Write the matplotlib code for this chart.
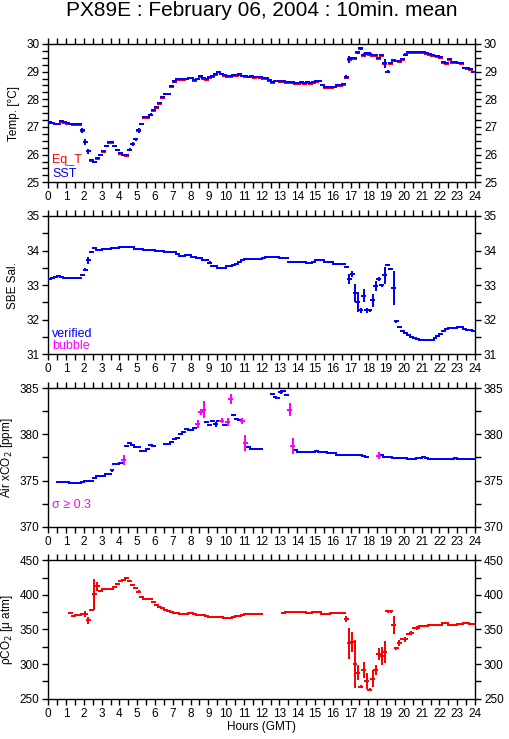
import numpy as np
import matplotlib
matplotlib.use('Agg')
import matplotlib.pyplot as plt
from matplotlib.ticker import MultipleLocator

plt.rcParams['font.family'] = ['Liberation Sans', 'DejaVu Sans']
nan = np.nan

title = "PX89E : February 06, 2004 : 10min. mean"
xlabel = "Hours (GMT)"
hour_ticks = list(range(0, 25))

# 10-minute means, 144 per day (one row = one hour)
sst = [
    27.18, 27.16, 27.12, 27.12, 27.20, 27.18,
    27.15, 27.12, 27.10, 27.10, 27.10, 26.88,
    26.45, 26.12, 25.80, 25.72, 25.88, 25.98,
    26.12, 26.33, 26.45, 26.45, 26.33, 26.18,
    26.05, 26.00, 25.98, 26.18, 26.38, 26.55,
    26.88, 27.12, 27.35, 27.35, 27.45, 27.60,
    27.72, 27.85, 28.07, 28.20, 28.20, 28.47,
    28.65, 28.72, 28.72, 28.72, 28.75, 28.78,
    28.78, 28.70, 28.75, 28.85, 28.78, 28.72,
    28.80, 28.85, 28.90, 29.00, 28.93, 28.88,
    28.85, 28.85, 28.87, 28.88, 28.90, 28.86,
    28.85, 28.82, 28.84, 28.80, 28.82, 28.80,
    28.78, 28.76, 28.70, 28.62, 28.68, 28.68,
    28.66, 28.66, 28.63, 28.62, 28.62, 28.60,
    28.60, 28.62, 28.60, 28.62, 28.60, 28.62,
    28.65, 28.68, 28.52, 28.45, 28.45, 28.45,
    28.46, 28.50, 28.52, 28.56, 28.80, 29.45,
    29.48, 29.50, 29.70, 29.85, 29.62, 29.66,
    29.65, 29.60, 29.60, 29.50, 29.60, 29.30,
    29.00, 29.30, 29.42, 29.40, 29.38, 29.45,
    29.62, 29.70, 29.72, 29.72, 29.72, 29.72,
    29.72, 29.68, 29.65, 29.60, 29.58, 29.55,
    29.52, 29.35, 29.30, 29.45, 29.35, 29.35,
    29.33, 29.30, 29.15, 29.12, 29.08, 29.00,
]
sst_std = [
    .02, .02, .02, .02, .02, .02,
    .02, .02, .02, .02, .02, .08,
    .10, .08, .03, .03, .03, .03,
    .03, .03, .02, .02, .03, .03,
    .02, .02, .02, .05, .06, .05,
    .08, .04, .02, .02, .04, .03,
    .03, .03, .03, .03, .03, .04,
    .05, .02, .02, .02, .02, .02,
    .02, .02, .02, .03, .02, .02,
    .02, .02, .02, .03, .02, .02,
    .02, .02, .02, .02, .02, .02,
    .02, .02, .02, .02, .02, .02,
    .02, .02, .02, .02, .02, .02,
    .02, .02, .02, .02, .02, .02,
    .02, .02, .02, .02, .02, .02,
    .02, .02, .03, .02, .02, .02,
    .02, .02, .02, .02, .08, .12,
    .04, .03, .06, .05, .05, .05,
    .05, .03, .03, .03, .03, .15,
    .06, .03, .03, .03, .03, .03,
    .04, .02, .02, .02, .02, .02,
    .02, .02, .02, .02, .02, .02,
    .02, .03, .03, .03, .02, .02,
    .02, .02, .03, .02, .02, .02,
]
eq_t = [
    27.16, 27.15, 27.12, 27.10, 27.18, 27.15,
    27.12, 27.10, 27.07, 27.07, 27.07, 26.85,
    26.45, 26.12, 25.78, 25.72, 25.86, 25.98,
    26.10, 26.30, 26.42, 26.42, 26.30, 26.15,
    26.02, 25.97, 25.96, 26.15, 26.38, 26.55,
    26.85, 27.10, 27.32, 27.32, 27.42, 27.58,
    27.70, 27.83, 28.05, 28.18, 28.18, 28.45,
    28.62, 28.70, 28.70, 28.70, 28.73, 28.76,
    28.76, 28.68, 28.72, 28.82, 28.75, 28.70,
    28.78, 28.82, 28.88, 28.97, 28.90, 28.85,
    28.82, 28.82, 28.85, 28.85, 28.87, 28.83,
    28.82, 28.80, 28.81, 28.77, 28.79, 28.77,
    28.75, 28.73, 28.67, 28.60, 28.65, 28.65,
    28.63, 28.63, 28.60, 28.59, 28.59, 28.57,
    28.57, 28.59, 28.57, 28.59, 28.57, 28.59,
    28.62, 28.65, 28.50, 28.42, 28.42, 28.42,
    28.43, 28.47, 28.49, 28.53, 28.78, 29.42,
    29.45, 29.47, 29.68, 29.83, 29.58, 29.63,
    29.62, 29.57, 29.57, 29.47, 29.57, 29.28,
    28.97, 29.28, 29.38, 29.37, 29.35, 29.42,
    29.60, 29.67, 29.69, 29.69, 29.69, 29.69,
    29.69, 29.65, 29.62, 29.57, 29.55, 29.52,
    29.49, 29.32, 29.27, 29.42, 29.32, 29.32,
    29.30, 29.27, 29.12, 29.09, 29.05, 28.97,
]

sal = [
    33.18, 33.22, 33.25, 33.27, 33.24, 33.22,
    33.22, 33.22, 33.22, 33.22, 33.22, 33.30,
    33.45, 33.72, 33.96, 34.08, 34.03, 34.03,
    34.05, 34.05, 34.05, 34.07, 34.07, 34.07,
    34.10, 34.10, 34.10, 34.10, 34.09, 34.06,
    34.05, 34.05, 34.02, 34.02, 34.03, 34.03,
    33.98, 33.98, 33.98, 33.95, 33.95, 33.95,
    33.95, 33.90, 33.83, 33.85, 33.88, 33.88,
    33.82, 33.82, 33.78, 33.78, 33.72, 33.72,
    33.65, 33.55, 33.55, 33.50, 33.50, 33.50,
    33.55, 33.55, 33.58, 33.62, 33.66, 33.72,
    33.77, 33.77, 33.77, 33.75, 33.75, 33.75,
    33.78, 33.80, 33.80, 33.80, 33.80, 33.80,
    33.78, 33.78, 33.78, 33.68, 33.68, 33.68,
    33.68, 33.68, 33.68, 33.65, 33.65, 33.68,
    33.72, 33.72, 33.74, 33.66, 33.66, 33.66,
    33.62, 33.62, 33.62, 33.60, 33.52, 33.18,
    33.33, 32.77, 32.51, 32.27, 32.70, 32.27,
    32.27, 32.56, 32.97, 33.17, 32.99, 33.28,
    33.57, 33.47, 32.91, 31.95, 31.78, 31.67,
    31.62, 31.55, 31.51, 31.46, 31.43, 31.42,
    31.42, 31.42, 31.42, 31.42, 31.46, 31.52,
    31.60, 31.68, 31.74, 31.76, 31.76, 31.76,
    31.78, 31.80, 31.74, 31.70, 31.70, 31.67,
]
sal_std = [
    .01, .01, .01, .01, .01, .01,
    .01, .01, .01, .01, .01, .02,
    .04, .10, .04, .02, .01, .01,
    .01, .01, .01, .01, .01, .01,
    .01, .01, .01, .01, .01, .01,
    .01, .01, .01, .01, .01, .01,
    .01, .01, .01, .01, .01, .01,
    .01, .01, .01, .01, .01, .01,
    .01, .01, .01, .01, .01, .01,
    .04, .01, .01, .01, .01, .01,
    .01, .01, .01, .01, .01, .01,
    .01, .01, .01, .01, .01, .01,
    .01, .01, .01, .01, .01, .01,
    .01, .01, .01, .01, .01, .01,
    .01, .01, .01, .01, .01, .01,
    .01, .01, .02, .01, .01, .01,
    .01, .01, .01, .01, .03, .15,
    .08, .27, .29, .08, .18, .07,
    .04, .18, .15, .06, .04, .24,
    .03, .03, .49, .04, .03, .02,
    .02, .02, .01, .01, .01, .01,
    .01, .01, .01, .01, .02, .02,
    .02, .02, .01, .01, .01, .01,
    .01, .01, .01, .01, .01, .01,
]

xco2 = [
    nan, nan, nan, 374.85, 374.85, 374.85,
    374.80, 374.75, 374.75, 374.72, 374.75, 374.85,
    374.95, 375.00, 375.00, 375.25, 375.45, 375.50,
    375.50, 375.70, 375.75, 376.10, 376.75, 376.80,
    376.85, 377.20, 378.76, 379.08, 378.87, 378.60,
    378.60, 378.20, 378.20, 378.40, 378.80, 378.70,
    nan, nan, nan, 379.00, 379.00, 379.20,
    379.50, 379.60, 380.00, 380.30, 380.55, 380.45,
    380.45, 380.65, 381.10, 382.40, 382.70, 381.30,
    381.00, 381.50, 381.10, 381.45, 381.50, 381.00,
    381.35, 383.85, 382.10, 381.70, 381.60, 381.50,
    379.10, 378.60, 378.45, 378.40, 378.40, 378.40,
    nan, nan, nan, 384.35, 384.10, 383.90,
    384.60, 384.67, 384.30, 382.70, 378.73, 378.30,
    378.10, 378.05, 378.05, 378.05, 378.05, 378.05,
    378.15, 378.10, 378.05, 378.05, 378.00, 377.98,
    377.98, 377.80, 377.80, 377.80, 377.78, 377.78,
    377.78, 377.75, 377.72, 377.72, 377.70, 377.60,
    nan, nan, nan, 377.70, 377.75, 377.60,
    377.55, 377.50, 377.45, 377.45, 377.40, 377.40,
    377.40, 377.35, 377.35, 377.35, 377.40, 377.45,
    377.50, 377.45, 377.38, 377.35, 377.33, 377.33,
    377.30, 377.30, 377.30, 377.30, 377.35, 377.40,
    377.30, 377.30, 377.30, 377.30, 377.30, 377.30,
]
xco2_std = [
    0, 0, 0, .05, .05, .05,
    .05, .05, .05, .05, .05, .05,
    .05, .05, .05, .05, .05, .05,
    .05, .05, .05, .20, .05, .05,
    .05, .55, .10, .10, .10, .05,
    .05, .15, .05, .05, .10, .05,
    0, 0, 0, .05, .05, .05,
    .05, .05, .05, .05, .05, .05,
    .05, .05, .45, .35, .90, .10,
    .05, .10, .25, .05, .30, .05,
    .45, .55, .10, .05, .05, .32,
    .85, .05, .05, .05, .05, .05,
    0, 0, 0, .05, .05, .05,
    .25, .10, .10, .70, .87, .05,
    .05, .05, .05, .05, .05, .05,
    .05, .05, .05, .05, .05, .05,
    .05, .05, .05, .05, .05, .05,
    .05, .05, .05, .05, .05, .05,
    0, 0, 0, .40, .05, .05,
    .05, .05, .05, .05, .05, .05,
    .05, .05, .05, .05, .05, .05,
    .05, .05, .05, .05, .05, .05,
    .05, .05, .05, .05, .05, .05,
    .05, .05, .05, .05, .05, .05,
]

pco2 = [
    nan, nan, nan, nan, nan, nan,
    nan, 373.7, 368.8, 370.3, 371.0, 372.0,
    372.0, 363.0, 377.5, 400.7, 412.3, 405.0,
    408.9, 408.9, 408.5, 408.9, 412.0, 415.2,
    419.5, 421.0, 423.9, 419.5, 413.7, 410.3,
    404.5, 397.2, 393.5, 393.5, 394.5, 390.0,
    386.0, 383.0, 381.0, 378.0, 377.0, 375.5,
    374.5, 374.0, 373.0, 372.0, 372.0, 373.5,
    374.0, 372.5, 371.0, 371.0, 371.0, 369.5,
    368.5, 368.0, 368.0, 368.0, 368.0, 367.0,
    366.5, 367.0, 368.5, 369.5, 370.0, 371.0,
    372.5, 373.0, 373.0, 372.0, 372.0, 372.0,
    nan, nan, nan, nan, nan, nan,
    nan, 374.5, 375.0, 375.0, 375.0, 375.0,
    375.0, 375.0, 375.0, 374.0, 374.0, 375.0,
    375.0, 375.0, 373.0, 373.0, 373.0, 373.5,
    373.6, 373.6, 373.6, 373.6, 365.0, 329.7,
    332.0, 299.8, 287.2, 267.4, 291.5, 275.6,
    263.0, 279.0, 291.5, 314.7, 312.3, 318.0,
    376.5, 376.0, 356.8, 322.9, 330.7, 336.5,
    335.5, 343.7, 345.2, 351.5, 351.5, 354.3,
    355.0, 355.0, 356.0, 356.0, 356.0, 356.0,
    357.0, 359.0, 359.0, 357.0, 356.5, 357.0,
    357.5, 358.0, 359.0, 359.5, 357.5, 358.5,
]
pco2_std = [
    0, 0, 0, 0, 0, 0,
    0, 1, 1, 1, 1, 1,
    4, 4.5, 1, 22.5, 6, 1,
    1, 1, 1, 1, 1, 1,
    1, 1, 1, 1, 1, 1,
    2, 1, 1, 1, 1, 1,
    1, 1, 1, 1, 1, 1,
    1, 1, 1, 1, 1, 1,
    1, 1, 1, 1, 1, 1,
    1, 1, 1, 1, 1, 1,
    1, 1, 1, 1, 1, 1,
    1, 1, 1, 1, 1, 1,
    0, 0, 0, 0, 0, 0,
    0, 1, 1, 1, 1, 1,
    1, 1, 1, 1, 1, 1,
    1, 1, 1, 1, 1, 1,
    1, 1, 1, 1, 4.3, 22,
    14, 35, 11, 2, 12, 12,
    2, 12, 7, 9, 13, 16,
    2, 2, 13, 2, 4, 1,
    4, 1, 3, 1, 3, 1,
    1, 1, 1, 1, 1, 1,
    1, 1, 1, 1, 1, 1,
    1, 1, 1, 1, 1, 1,
]

time_h = np.arange(144) / 6.0 + 1.0 / 12.0   # centre of each 10-min bin
HALF = 1.0 / 12.0

BLUE, RED, MAG = '#0000ff', '#ff0000', '#ff00ff'
LW = 1.1
FS = 8.5


def bars(ax, y, err, color, mask=None, lw=LW, zorder=3, vert=True):
    y = np.asarray(y, float)
    err = np.asarray(err, float)
    m = ~np.isnan(y)
    if mask is not None:
        m &= mask
    t = time_h[m]
    h = ax.hlines(y[m], t - HALF, t + HALF, colors=color, linewidth=lw,
                  zorder=zorder, antialiased=False)
    h.set_capstyle('projecting')
    if vert:
        e = np.maximum(err[m], 0.0)
        ax.vlines(t, y[m] - e, y[m] + e, colors=color,
                  linewidth=lw, zorder=zorder, antialiased=False)


fig = plt.figure(figsize=(5.09, 7.39), dpi=100)
L, W, H = 48.3 / 509, 426.7 / 509, 138.3 / 739
tops = [44.0, 216.0, 388.3, 560.3]
ylims = [(25, 30), (31, 35), (370, 385), (250, 450)]
majors = [1, 1, 5, 50]
minors = [0.25, 0.5, 2.5, 25]
ylabels = ['Temp. [°C]', 'SBE Sal.', r'Air xCO$_2$ [ppm]', r'ρCO$_2$ [μ atm]']
ylab_x = [-0.066, -0.068, -0.078, -0.078]

axes = []
for k in range(4):
    ax = fig.add_axes([L, 1 - (tops[k] / 739) - H, W, H])
    ax.set_xlim(0, 24)
    ax.set_ylim(*ylims[k])
    ax.xaxis.set_minor_locator(MultipleLocator(0.5))
    ax.yaxis.set_major_locator(MultipleLocator(majors[k]))
    ax.yaxis.set_minor_locator(MultipleLocator(minors[k]))
    ax.set_xticks(hour_ticks)
    ax.set_xticklabels([str(h) for h in hour_ticks])
    ax.tick_params(which='both', direction='out', length=4, width=1,
                   top=True, right=True, labelright=True, labelsize=FS, pad=2.5,
                   colors='black')
    for s in ax.spines.values():
        s.set_linewidth(1.0)
    ax.set_ylabel(ylabels[k], fontsize=FS)
    ax.yaxis.set_label_coords(ylab_x[k], 0.5)
    axes.append(ax)

ax1, ax2, ax3, ax4 = axes

# Temperature
bars(ax1, eq_t, np.zeros(144), RED, lw=1.3, zorder=2, vert=False)
bars(ax1, sst, sst_std, BLUE, zorder=3)
ax1.text(0.009, 0.142, 'Eq_T', color=RED, transform=ax1.transAxes, fontsize=9)
ax1.text(0.009, 0.041, 'SST', color=BLUE, transform=ax1.transAxes, fontsize=9)

# Salinity
bars(ax2, sal, sal_std, BLUE)
ax2.text(0.009, 0.125, 'verified', color=BLUE, transform=ax2.transAxes, fontsize=9)
ax2.text(0.009, 0.036, 'bubble', color=MAG, transform=ax2.transAxes, fontsize=9)

# Air xCO2
xs = np.asarray(xco2_std, float)
bars(ax3, xco2, xco2_std, BLUE, mask=xs < 0.3)
bars(ax3, xco2, xco2_std, MAG, mask=xs >= 0.3)
ax3.text(0.009, 0.138, 'σ ≥ 0.3', color=MAG, transform=ax3.transAxes, fontsize=9)

# pCO2
bars(ax4, pco2, pco2_std, RED)
ax4.set_xlabel(xlabel, fontsize=FS, labelpad=1)

fig.text(0.514, 1 - 16.5 / 739, title, ha='center', va='baseline', fontsize=15)

fig.savefig('out.png', dpi=100)
